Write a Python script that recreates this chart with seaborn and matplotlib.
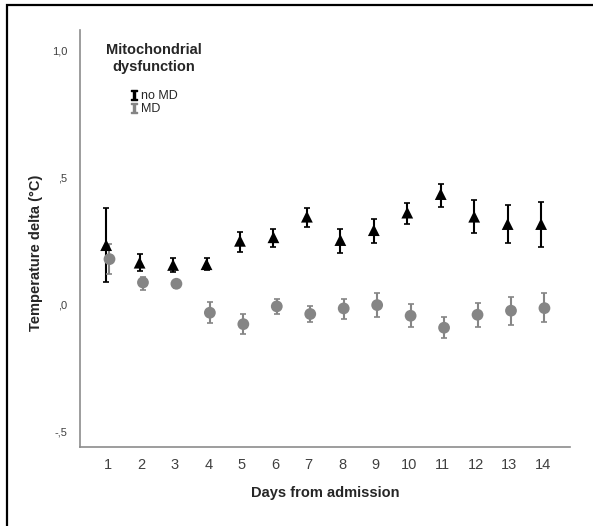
import numpy as np
import pandas as pd
import matplotlib.pyplot as plt
import seaborn as sns
from matplotlib.lines import Line2D
from matplotlib.patches import Rectangle

sns.set_style('white')
plt.rcParams['font.family'] = ['Liberation Sans', 'DejaVu Sans']

# data: mean and error bar ends per day
days = list(range(1, 15))
no_md_mean = [0.232, 0.163, 0.154, 0.157, 0.249, 0.263, 0.344, 0.252, 0.291, 0.360, 0.433, 0.344, 0.315, 0.315]
no_md_low = [0.085, 0.131, 0.126, 0.134, 0.206, 0.224, 0.302, 0.202, 0.239, 0.314, 0.383, 0.278, 0.239, 0.226]
no_md_high = [0.379, 0.196, 0.180, 0.180, 0.282, 0.295, 0.379, 0.295, 0.333, 0.396, 0.472, 0.409, 0.391, 0.400]
md_mean = [0.177, 0.085, 0.080, -0.034, -0.079, -0.009, -0.039, -0.017, -0.004, -0.046, -0.093, -0.042, -0.026, -0.016]
md_low = [0.118, 0.055, 0.065, -0.076, -0.118, -0.041, -0.070, -0.058, -0.052, -0.092, -0.134, -0.089, -0.084, -0.071]
md_high = [0.235, 0.106, 0.095, 0.007, -0.041, 0.021, -0.007, 0.021, 0.044, 0.000, -0.052, 0.005, 0.028, 0.042]

groups = ['no MD', 'MD']
ytick_vals = [-0.5, 0.0, 0.5, 1.0]
ytick_labels = ['-,5', ',0', ',5', '1,0']

df = pd.DataFrame({
    'day': days * 2,
    'mean': no_md_mean + md_mean,
    'low': no_md_low + md_low,
    'high': no_md_high + md_high,
    'group': ['no MD'] * 14 + ['MD'] * 14,
})
offsets = {'no MD': -0.05, 'MD': 0.05}
df['x'] = df['day'] + df['group'].map(offsets)

colors = {'no MD': 'black', 'MD': '#858585'}
markers = {'no MD': '^', 'MD': 'o'}

fig = plt.figure(figsize=(5.93, 5.26), dpi=100)
ax = fig.add_axes([0.135, 0.15, 0.826, 0.793])

for g in groups:
    sub = df[df['group'] == g]
    ax.errorbar(sub['x'], sub['mean'],
                yerr=[sub['mean'] - sub['low'], sub['high'] - sub['mean']],
                fmt='none', ecolor=colors[g], elinewidth=1.5, capsize=2, capthick=1.2, zorder=2)

sns.scatterplot(data=df, x='x', y='mean', hue='group', style='group',
                palette=colors, markers=markers, hue_order=groups,
                s=72, edgecolor='none', legend=False, ax=ax, zorder=3)

ax.set_xlim(0.17, 14.81)
ax.set_ylim(-0.563, 1.079)
ax.set_xticks(days)
ax.set_xticklabels([str(d) for d in days], fontsize=10.5, color='#404040')
ax.set_yticks(ytick_vals)
ax.set_yticklabels(ytick_labels, fontsize=8, color='#404040')
ax.tick_params(length=0, pad=8)
ax.tick_params(axis='y', pad=9)

for side in ['top', 'right']:
    ax.spines[side].set_visible(False)
for side in ['left', 'bottom']:
    ax.spines[side].set_color('#8c8c8c')
    ax.spines[side].set_linewidth(1.2)

ax.set_xlabel('Days from admission', fontsize=10.5, fontweight='bold', labelpad=10)
ax.set_ylabel('Temperature delta (°C)', fontsize=10.5, fontweight='bold')
ax.yaxis.set_label_coords(-0.075, 0.465)

handles = [Line2D([], [], linestyle='none', marker=r'$\mathtt{I}$', color=colors[g],
                  markersize=7) for g in groups]
leg = ax.legend(handles, groups, title='Mitochondrial\ndysfunction', frameon=False,
                loc='upper left', bbox_to_anchor=(0.03, 0.995), fontsize=9,
                handlelength=0.6, handletextpad=0.3, labelspacing=0.1,
                alignment='center',
                title_fontproperties={'weight': 'bold', 'size': 10.5})
leg.get_title().set_multialignment('center')
leg._legend_box.sep = 12

fig.patches.append(Rectangle((7 / 593, -0.1), 1.2, 1.0905, transform=fig.transFigure,
                             fill=False, edgecolor='black', linewidth=1.6))

fig.savefig('out.png', dpi=100)
